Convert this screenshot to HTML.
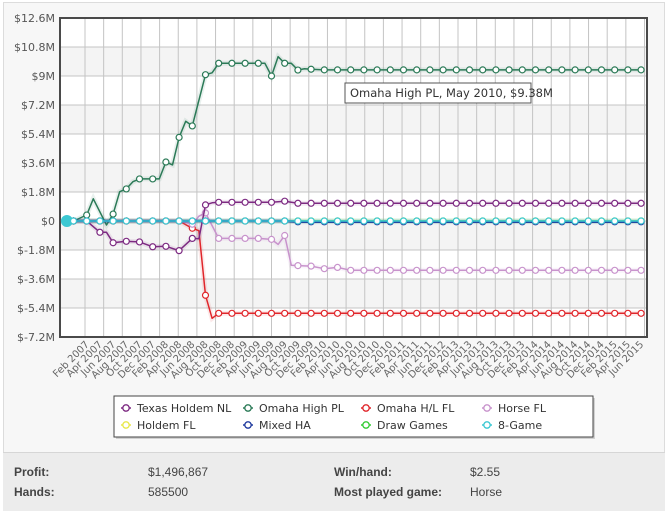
<!DOCTYPE html>
<html><head><meta charset="utf-8">
<style>
body{margin:0;width:667px;height:513px;background:#fff;font-family:"Liberation Sans",sans-serif;overflow:hidden}
#wrap{position:absolute;left:3px;top:2px;width:662px;height:509px;background:#f7f7f7;border:1px solid #dcdcdc;box-sizing:border-box}
#stats{position:absolute;left:3px;top:452px;width:662px;height:59px;background:#ececec;border-top:1px solid #d6d6d6;box-sizing:border-box}
.st{position:absolute;font-size:12px;color:#444}
.b{font-weight:bold}
</style></head><body>
<div id="wrap"></div>
<svg id="chart" width="667" height="452" style="position:absolute;left:0;top:0"></svg>
<div id="stats">
<div class="st b" style="left:11px;top:12px">Profit:</div>
<div class="st" style="left:145px;top:12px">$1,496,867</div>
<div class="st b" style="left:331px;top:12px">Win/hand:</div>
<div class="st" style="left:467px;top:12px">$2.55</div>
<div class="st b" style="left:11px;top:32px">Hands:</div>
<div class="st" style="left:145px;top:32px">585500</div>
<div class="st b" style="left:331px;top:32px">Most played game:</div>
<div class="st" style="left:467px;top:32px">Horse</div>
</div>
<script>
const xLabels=["Feb 2007","Apr 2007","Jun 2007","Aug 2007","Oct 2007","Dec 2007","Feb 2008","Apr 2008","Jun 2008","Aug 2008","Oct 2008","Dec 2008","Feb 2009","Apr 2009","Jun 2009","Aug 2009","Oct 2009","Dec 2009","Feb 2010","Apr 2010","Jun 2010","Aug 2010","Oct 2010","Dec 2010","Feb 2011","Apr 2011","Jun 2011","Dec 2012","Feb 2013","Apr 2013","Jun 2013","Aug 2013","Oct 2013","Dec 2013","Feb 2014","Apr 2014","Jun 2014","Aug 2014","Oct 2014","Dec 2014","Feb 2015","Apr 2015","Jun 2015"];
const yTicks=[-7.2,-5.4,-3.6,-1.8,0,1.8,3.6,5.4,7.2,9,10.8,12.6];
const yTickLabels=["$-7.2M","$-5.4M","$-3.6M","$-1.8M","$0","$1.8M","$3.6M","$5.4M","$7.2M","$9M","$10.8M","$12.6M"];
const baseX=[-1.5,-1,0,1,2,3,4,5,6,7,8,9,10,11,12,13,14,15,16,17,18,19,20,21,22,23,24,25,26,27,28,29,30,31,32,33,34,35,36,37,38,39,40,41,42];
const zeroY=[0,0,0,0,0,0,0,0,0,0,0,0,0,0,0,0,0,0,0,0,0,0,0,0,0,0,0,0,0,0,0,0,0,0,0,0,0,0,0,0,0,0,0,0,0];
const omahaHighX=[-1.5,-1,0,0.5,1.5,2,2.5,3,3.5,4,5,5.5,6,6.5,7,7.5,8,9,9.5,10,11,12,13,13.5,14,14.5,15,15.5,16,16.5,17,18,19,20,21,22,23,24,25,26,27,28,29,30,31,32,33,34,35,36,37,38,39,40,41,42];
const omahaHighY=[0,0,0.37,1.38,-0.25,0.43,1.82,1.99,2.44,2.61,2.61,2.61,3.66,3.48,5.19,6.19,5.9,9.08,9.2,9.79,9.79,9.79,9.79,9.79,9.0,10.2,9.79,9.79,9.37,9.45,9.42,9.38,9.38,9.38,9.38,9.38,9.38,9.38,9.38,9.38,9.38,9.38,9.38,9.38,9.38,9.38,9.38,9.38,9.38,9.38,9.38,9.38,9.38,9.38,9.38,9.38];
const texasX=[-1.5,-1,0,1,1.5,2,3,4,5,6,7,8,8.5,9,9.5,10,11,12,13,14,15,16,17,18,19,20,21,22,23,24,25,26,27,28,29,30,31,32,33,34,35,36,37,38,39,40,41,42];
const texasY=[0,0,0,-0.7,-0.7,-1.35,-1.26,-1.3,-1.6,-1.57,-1.84,-1.08,-1.1,1.0,1.13,1.16,1.16,1.16,1.16,1.16,1.23,1.1,1.1,1.1,1.1,1.1,1.1,1.1,1.1,1.1,1.1,1.1,1.1,1.1,1.1,1.1,1.1,1.1,1.1,1.1,1.1,1.1,1.1,1.1,1.1,1.1,1.1,1.1];
const omahaHLX=[-1.5,-1,0,1,2,3,4,5,6,7,8,8.5,9,9.5,10,11,12,13,14,15,16,17,18,19,20,21,22,23,24,25,26,27,28,29,30,31,32,33,34,35,36,37,38,39,40,41,42];
const omahaHLY=[0,0,0,0,0,0,0,0,0,0,-0.45,-0.6,-4.61,-6.04,-5.73,-5.73,-5.73,-5.73,-5.73,-5.73,-5.73,-5.73,-5.73,-5.73,-5.73,-5.73,-5.73,-5.73,-5.73,-5.73,-5.73,-5.73,-5.73,-5.73,-5.73,-5.73,-5.73,-5.73,-5.73,-5.73,-5.73,-5.73,-5.73,-5.73,-5.73,-5.73,-5.73];
const horseX=[-1.5,-1,0,1,2,3,4,5,6,7,8,8.5,9,10,11,12,13,14,14.5,15,15.5,16,17,18,19,20,21,22,23,24,25,26,27,28,29,30,31,32,33,34,35,36,37,38,39,40,41,42];
const horseY=[0,0,0,0,0,0,0,0,0,0,-0.2,0.3,0.5,-1.08,-1.08,-1.08,-1.08,-1.14,-1.45,-0.9,-2.75,-2.77,-2.8,-2.96,-2.88,-3.06,-3.06,-3.06,-3.06,-3.06,-3.06,-3.06,-3.06,-3.06,-3.06,-3.06,-3.06,-3.06,-3.06,-3.06,-3.06,-3.06,-3.06,-3.06,-3.06,-3.06,-3.06,-3.06];
const mixedY=[0,0,0,0,0,0,0,0,0,0,0,0,0,0,0,0,0,0,-0.05,-0.05,-0.05,-0.05,-0.05,-0.05,-0.05,-0.05,-0.05,-0.05,-0.05,-0.05,-0.05,-0.05,-0.05,-0.05,-0.05,-0.05,-0.05,-0.05,-0.05,-0.05,-0.05,-0.05,-0.05,-0.05,-0.05];

const NS="http://www.w3.org/2000/svg";
const svg=document.getElementById('chart');
const L=60,R=647,T=18,B=337;
function xPx(u){return 86.7+u*13.2;}
function yPx(v){return T+(12.6-v)/19.8*(B-T);}
function mk(tag,attrs,parent){const e=document.createElementNS(NS,tag);for(const k in attrs)e.setAttribute(k,attrs[k]);(parent||svg).appendChild(e);return e;}

const bg=mk('rect',{x:L,y:T,width:R-L,height:B-T,fill:'#fff'});


for(let i=0;i<yTicks.length-1;i++){
  if(i%2===1){
    const band=mk('rect',{x:L,y:yPx(yTicks[i+1]),width:R-L,height:yPx(yTicks[i])-yPx(yTicks[i+1]),fill:'#f4f4f4'});
    
    
  }
}
for(let gx=85;gx<R;gx+=18.65){
  const g=mk('line',{x1:gx,x2:gx,y1:T,y2:B,stroke:'#c4c4c4','stroke-width':1});
  
  
}
yTicks.forEach((v,i)=>{
  const g=mk('line',{x1:L,x2:R,y1:yPx(v),y2:yPx(v),stroke:'#c4c4c4','stroke-width':1});
  
  
  const t=mk('text',{x:55,y:yPx(v)+4,'text-anchor':'end','font-size':11,fill:'#555','font-family':'"DejaVu Sans",sans-serif'});
  t.textContent=yTickLabels[i];
  
  
});
xLabels.forEach((s,k)=>{
  const x=xPx(k)+3,y=345;
  const t=mk('text',{x:x,y:y,'text-anchor':'end','font-size':10,fill:'#666','font-family':'"DejaVu Sans",sans-serif',transform:`rotate(-45 ${x} ${y})`});
  t.textContent=s;
  
  
});
const border=mk('rect',{x:L,y:T,width:R-L,height:B-T,fill:'none',stroke:'#4a4a4a','stroke-width':2});



const series=[
  {name:'holdem-fl',xs:baseX,ys:zeroY,c:'#e8e84a',w:1.5},
  {name:'draw-games',xs:baseX,ys:zeroY,c:'#33cc33',w:1.5},
  {name:'omaha-hl-fl',xs:omahaHLX,ys:omahaHLY,c:'#e0262b',w:1.5},
  {name:'horse-fl',xs:horseX,ys:horseY,c:'#c893cc',w:1.5},
  {name:'texas-holdem-nl',xs:texasX,ys:texasY,c:'#7d2a82',w:1.5},
  {name:'omaha-high-pl',xs:omahaHighX,ys:omahaHighY,c:'#2b7a57',w:1.5},
  {name:'mixed-ha',xs:baseX,ys:mixedY,c:'#1f3a9e',w:2.5},
  {name:'8-game',xs:baseX,ys:zeroY,c:'#3cc8d2',w:1.5}
];
series.forEach(s=>{
  const grp=mk('g',{});
  
  
  const pts=s.xs.map((u,i)=>xPx(u).toFixed(1)+','+yPx(s.ys[i]).toFixed(1)).join(' ');
  const halo=mk('polyline',{points:pts,fill:'none',stroke:s.c,'stroke-opacity':0.1,'stroke-width':5},grp);
  
  
  const pl=mk('polyline',{points:pts,fill:'none',stroke:s.c,'stroke-width':s.w,'stroke-linejoin':'round'},grp);
  
  
  s.xs.forEach((u,i)=>{
    if(Number.isInteger(u)||u<0){
      const big=(s.name==='8-game'&&u===-1.5);
      const m=mk('circle',{cx:xPx(u),cy:yPx(s.ys[i]),r:big?5:3,fill:big?s.c:'#fff',stroke:s.c,'stroke-width':big?2:1.2},grp);
      
      
    }
  });
});

const tip=mk('g',{});


mk('rect',{x:345,y:83,width:186,height:20,fill:'#fff',stroke:'#555','stroke-width':1},tip);
const tt=mk('text',{x:350,y:97,'font-size':11.5,fill:'#333','font-family':'"DejaVu Sans",sans-serif'},tip);
tt.textContent='Omaha High PL, May 2010, $9.38M';

const lg=mk('g',{});


mk('rect',{x:116,y:398,width:479,height:41,fill:'#999','fill-opacity':0.4},lg);
mk('rect',{x:114,y:396,width:479,height:41,fill:'#fff',stroke:'#444','stroke-width':1},lg);
const legNames=['Texas Holdem NL','Omaha High PL','Omaha H/L FL','Horse FL','Holdem FL','Mixed HA','Draw Games','8-Game'];
const legColors=['#7d2a82','#2b7a57','#e0262b','#c893cc','#e8e84a','#1f3a9e','#33cc33','#3cc8d2'];
const colX=[126,248,366,487];
legNames.forEach((n,i)=>{
  const cx=colX[i%4],cy=i<4?408:425;
  const it=mk('g',{},lg);
  
  
  mk('line',{x1:cx-5,x2:cx+5,y1:cy,y2:cy,stroke:legColors[i],'stroke-width':1.5},it);
  mk('circle',{cx:cx,cy:cy,r:3.2,fill:'#fff',stroke:legColors[i],'stroke-width':1.3},it);
  const t=mk('text',{x:cx+11,y:cy+4,'font-size':11,fill:'#333','font-family':'"DejaVu Sans",sans-serif'},it);
  t.textContent=n;
});
</script>
</body></html>
